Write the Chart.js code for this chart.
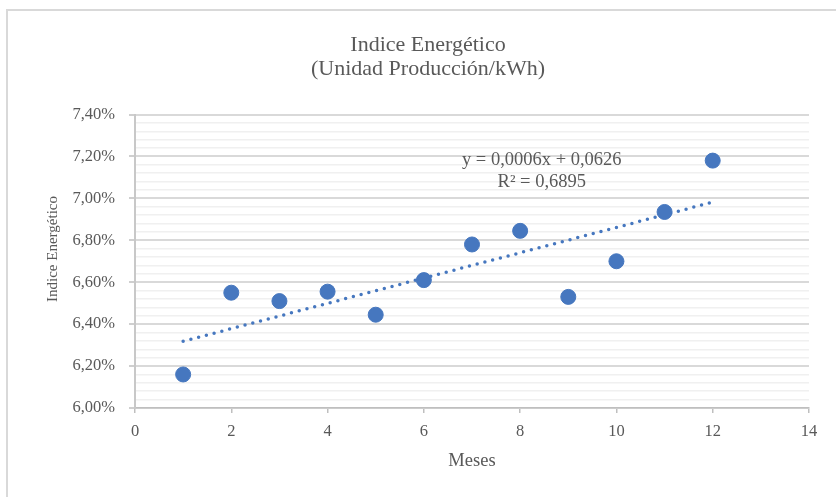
<!DOCTYPE html>
<html>
<head>
<meta charset="utf-8">
<script src="https://cdn.jsdelivr.net/npm/chart.js@4"></script>
<style>
  html, body { margin: 0; padding: 0; background: #fff; }
  #wrap { width: 836px; height: 497px; }
</style>
</head>
<body>
<div id="wrap"><canvas id="myChart" width="836" height="497"></canvas></div>
<script>
const meses = [1, 2, 3, 4, 5, 6, 7, 8, 9, 10, 11, 12]
const indice = [6.16, 6.55, 6.51, 6.555, 6.445, 6.61, 6.78, 6.845, 6.53, 6.70, 6.935, 7.18] // %
const tituloLineas = ['Indice Energético', '(Unidad Producción/kWh)']
const ecuacion = ['y = 0,0006x + 0,0626', 'R² = 0,6895']
const xTicks = [0, 14, 2]       // min, max, step
const yTicks = [6.0, 7.4, 0.2]  // min, max, major step (%)

const TEXT = '#595959'
const BLUE = '#4677bf'
const FONT = "'Liberation Serif', 'Times New Roman', serif"

// linear trendline (least squares) through the points
const n = meses.length
const mx = meses.reduce((a, b) => a + b, 0) / n
const my = indice.reduce((a, b) => a + b, 0) / n
let sxy = 0, sxx = 0
meses.forEach((x, i) => { sxy += (x - mx) * (indice[i] - my); sxx += (x - mx) * (x - mx) })
const slope = sxy / sxx
const inter = my - slope * mx
const x0 = meses[0], x1 = meses[n - 1]
const trend = [{ x: x0, y: inter + slope * x0 }, { x: x1, y: inter + slope * x1 }]

const isMajor = v => Math.abs(v / yTicks[2] - Math.round(v / yTicks[2])) < 1e-6

const extras = {
  id: 'extras',
  beforeDraw(chart) {
    const c = chart.ctx
    c.save()
    c.fillStyle = '#fff'
    c.fillRect(0, 0, chart.width, chart.height)
    c.strokeStyle = '#d9d9d9'
    c.lineWidth = 2
    c.strokeRect(7, 10, 900, 600)
    c.restore()
  },
  afterDraw(chart) {
    const c = chart.ctx
    const xs = chart.scales.x, ys = chart.scales.y
    c.save()
    c.fillStyle = TEXT
    c.textAlign = 'center'
    c.textBaseline = 'middle'
    // title
    c.font = '22px ' + FONT
    tituloLineas.forEach((t, i) => c.fillText(t, 428, 45 + i * 24))
    // axis titles
    c.font = '18.5px ' + FONT
    c.fillText('Meses', 472, 461)
    c.save()
    c.translate(53, 249)
    c.rotate(-Math.PI / 2)
    c.font = '15px ' + FONT
    c.fillText('Indice Energético', 0, 0)
    c.restore()
    // trendline equation
    c.font = '18.5px ' + FONT
    c.fillText(ecuacion[0], xs.getPixelForValue(8.45), ys.getPixelForValue(7.18))
    c.fillText(ecuacion[1], xs.getPixelForValue(8.45), ys.getPixelForValue(7.075))
    c.restore()
  }
}

const ctx = document.getElementById('myChart').getContext('2d')
const myChart = new Chart(ctx, {
  type: 'scatter',
  data: {
    datasets: [{
      label: 'Indice',
      data: meses.map((m, i) => ({ x: m, y: indice[i] })),
      backgroundColor: BLUE,
      borderColor: BLUE,
      pointRadius: 7.5,
      pointHoverRadius: 7.5,
      order: 1
    }, {
      type: 'line',
      label: 'Tendencia',
      data: trend,
      borderColor: BLUE,
      borderWidth: 3.5,
      borderDash: [0, 8],
      borderCapStyle: 'round',
      pointRadius: 0,
      fill: false,
      order: 2
    }]
  },
  options: {
    responsive: false,
    animation: false,
    layout: { padding: { left: 0, top: 114.5, right: 27, bottom: 0 } },
    plugins: { legend: { display: false }, title: { display: false }, tooltip: { enabled: false } },
    scales: {
      x: {
        type: 'linear',
        min: xTicks[0], max: xTicks[1],
        afterFit: s => { s.height = 89 },
        ticks: { stepSize: xTicks[2], color: TEXT, font: { family: FONT, size: 16.5 }, padding: 9 },
        grid: { drawOnChartArea: false, drawTicks: true, tickLength: 5, color: '#bfbfbf', lineWidth: 1.5 },
        border: { color: '#bfbfbf', width: 1.5 }
      },
      y: {
        min: yTicks[0], max: yTicks[1],
        afterFit: s => { s.width = 135 },
        ticks: {
          stepSize: 0.04,
          autoSkip: false,
          color: TEXT,
          font: { family: FONT, size: 16.5 },
          padding: 14,
          callback: v => isMajor(v) ? v.toFixed(2).replace('.', ',') + '%' : ''
        },
        grid: {
          tickLength: 6,
          color: c => isMajor(c.tick.value) ? '#d9d9d9' : '#f0f0f0',
          lineWidth: c => isMajor(c.tick.value) ? 2 : 1.5,
          tickColor: c => isMajor(c.tick.value) ? '#bfbfbf' : 'rgba(0,0,0,0)',
          tickWidth: 1.5
        },
        border: { color: '#c8c8c8', width: 2 }
      }
    }
  },
  plugins: [extras]
})
</script>
</body>
</html>
